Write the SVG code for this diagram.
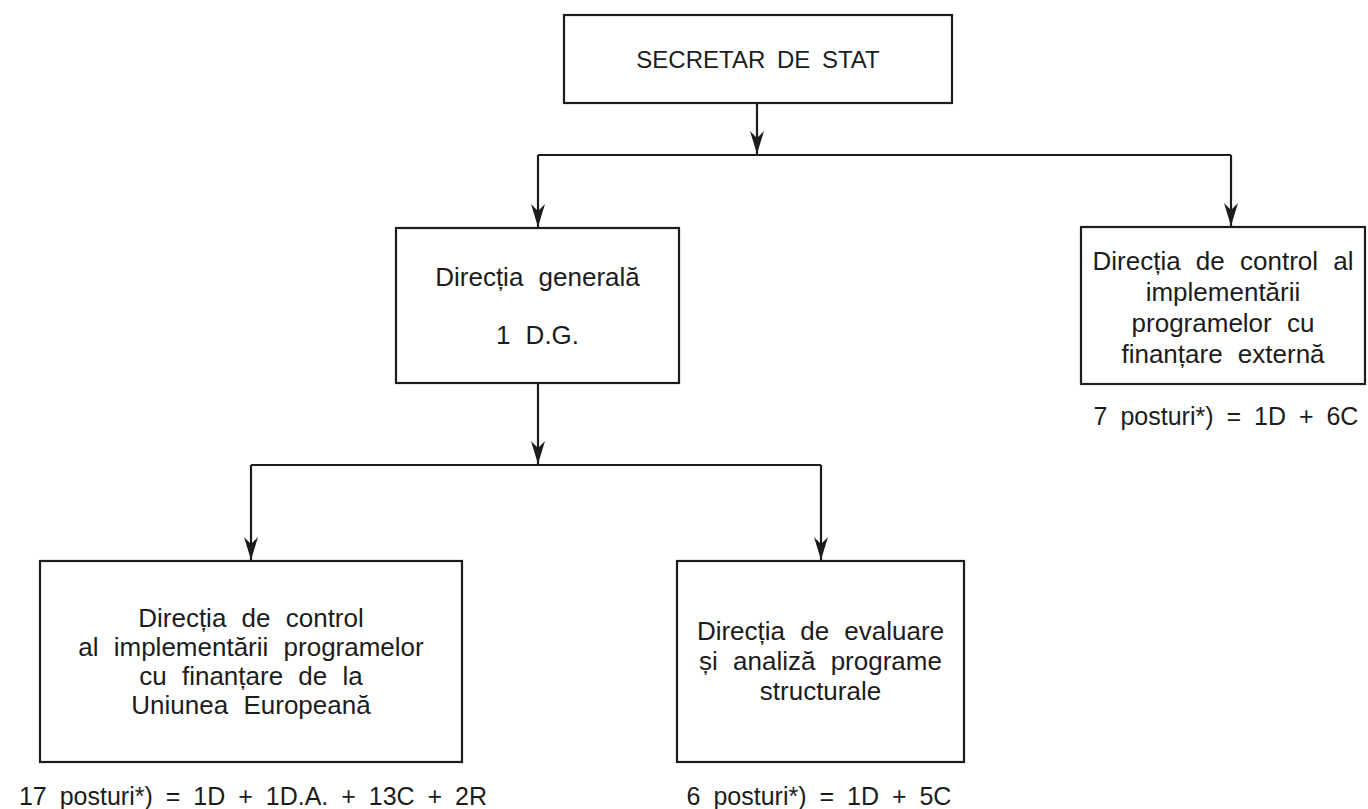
<svg xmlns="http://www.w3.org/2000/svg" width="1368" height="809" viewBox="0 0 1368 809">
<style>
.box{fill:#fff;stroke:#1c1c1c;stroke-width:2.2}
.t{font-family:"Liberation Sans",Arial,sans-serif;font-size:26px;fill:#1c1c1c;text-anchor:middle;word-spacing:8px}
.lbl{font-size:25px;word-spacing:6px}
.top{font-size:24px;word-spacing:5px}
.c{fill:none;stroke:#1c1c1c;stroke-width:2.2}
</style>
<defs>
<marker id="ah" markerUnits="userSpaceOnUse" viewBox="-24 -8 25 16" markerWidth="25" markerHeight="16" refX="0" refY="0" orient="auto">
<path d="M0,0 L-23,-7 L-16,0 L-23,7 Z" fill="#1c1c1c"/>
</marker>
</defs>
<rect width="1368" height="809" fill="#fff"/>
<g id="connectors">
<path class="c" d="M757,103 V154" marker-end="url(#ah)"/>
<path class="c" d="M538,155 H1231"/>
<path class="c" d="M538,155 V227" marker-end="url(#ah)"/>
<path class="c" d="M1231,155 V226" marker-end="url(#ah)"/>
<path class="c" d="M538,383 V464" marker-end="url(#ah)"/>
<path class="c" d="M251,465 H821"/>
<path class="c" d="M251,465 V560" marker-end="url(#ah)"/>
<path class="c" d="M821,465 V560" marker-end="url(#ah)"/>
</g>
<g id="secretar">
<rect class="box" x="564" y="15" width="388" height="88"/>
<text class="t top" x="758" y="68">SECRETAR DE STAT</text>
</g>
<g id="directia-generala">
<rect class="box" x="396" y="228" width="283" height="155"/>
<text class="t" x="537.5" y="286">Direcția generală</text>
<text class="t" x="537.5" y="344">1 D.G.</text>
</g>
<g id="directia-externa">
<rect class="box" x="1081" y="227" width="284" height="157"/>
<text class="t" x="1223" y="270">Direcția de control al</text>
<text class="t" x="1223" y="301">implementării</text>
<text class="t" x="1223" y="332">programelor cu</text>
<text class="t" x="1223" y="363">finanțare externă</text>
<text class="t lbl" x="1226" y="425">7 posturi*) = 1D + 6C</text>
</g>
<g id="directia-ue">
<rect class="box" x="40" y="561" width="422" height="201"/>
<text class="t" x="251" y="627">Direcția de control</text>
<text class="t" x="251" y="656">al implementării programelor</text>
<text class="t" x="251" y="685">cu finanțare de la</text>
<text class="t" x="251" y="714">Uniunea Europeană</text>
<text class="t lbl" x="253" y="805">17 posturi*) = 1D + 1D.A. + 13C + 2R</text>
</g>
<g id="directia-evaluare">
<rect class="box" x="677" y="561" width="287" height="201"/>
<text class="t" x="820.5" y="640">Direcția de evaluare</text>
<text class="t" x="820.5" y="670">și analiză programe</text>
<text class="t" x="820.5" y="700">structurale</text>
<text class="t lbl" x="819" y="805">6 posturi*) = 1D + 5C</text>
</g>
</svg>
